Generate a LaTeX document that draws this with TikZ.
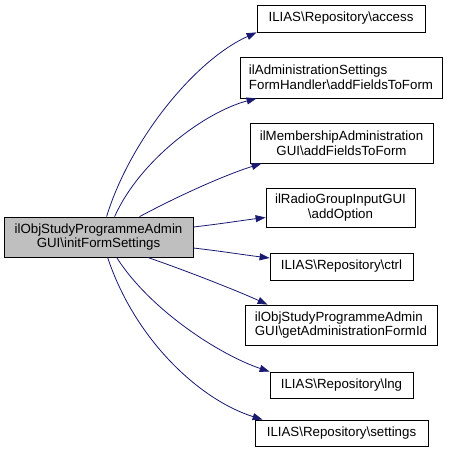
\documentclass[tikz,border=0pt]{standalone}
\usepackage{fontspec}
\setmainfont{Liberation Sans}
\usetikzlibrary{arrows.meta,calc}
\definecolor{edgeblue}{HTML}{191970}
\definecolor{mainfill}{HTML}{BFBFBF}
\begin{document}
\begin{tikzpicture}[x=1pt,y=-1pt,
  font=\fontsize{13.3}{14.7}\selectfont,
  box/.style={draw=black, line width=0.8pt, inner sep=0pt, fill=white},
  edge/.style={draw=edgeblue, line width=0.8pt, -{Triangle[length=10pt,width=7pt]}}]
\useasboundingbox (0,0) rectangle (448,453);
\node[box, fill=mainfill, minimum width=189pt, minimum height=40pt, align=center] (main) at (98.5,237) {ilObjStudyProgrammeAdmin\\GUI\textbackslash initFormSettings};
\node[box, minimum width=168pt, minimum height=27pt] (access) at (341,18.5) {ILIAS\textbackslash Repository\textbackslash access};
\node[box, minimum width=202pt, minimum height=41pt, align=left] (admin) at (341,77.5) {ilAdministrationSettings\\FormHandler\textbackslash addFieldsToForm};
\node[box, minimum width=183pt, minimum height=40pt, align=center] (mem) at (341.5,143) {ilMembershipAdministration\\GUI\textbackslash addFieldsToForm};
\node[box, minimum width=149pt, minimum height=39pt, align=center] (radio) at (340.5,207.5) {ilRadioGroupInputGUI\\\textbackslash addOption};
\node[box, minimum width=143pt, minimum height=27pt] (ctrl) at (341.5,266.5) {ILIAS\textbackslash Repository\textbackslash ctrl};
\node[box, minimum width=192pt, minimum height=40pt, align=left] (get) at (341,325) {ilObjStudyProgrammeAdmin\\GUI\textbackslash getAdministrationFormId};
\node[box, minimum width=143pt, minimum height=26pt] (lng) at (341.5,385) {ILIAS\textbackslash Repository\textbackslash lng};
\node[box, minimum width=173pt, minimum height=26pt] (settings) at (341.5,433) {ILIAS\textbackslash Repository\textbackslash settings};

\draw[edge] ($(main.north west)+(103,0)$) .. controls (130,140) and (195,60) .. (access.south west);
\draw[edge] ($(main.north west)+(111,0)$) .. controls (140,160) and (205,112) .. ($(admin.south west)+(17,0)$);
\draw[edge] ($(main.north west)+(136,0)$) .. controls (180,195) and (225,175) .. ($(mem.south west)+(12,0)$);
\draw[edge] ($(main.east)+(0,-10)$) .. controls (220,224) and (245,220) .. ($(radio.west)+(0,10)$);
\draw[edge] ($(main.east)+(0,11)$) .. controls (220,251) and (245,255) .. ($(ctrl.west)+(0,-8.5)$);
\draw[edge] ($(main.south west)+(144,0)$) .. controls (190,272) and (240,292) .. ($(get.north west)+(23,0)$);
\draw[edge] ($(main.south west)+(113,0)$) .. controls (150,310) and (220,355) .. (lng.north west);
\draw[edge] ($(main.south west)+(104,0)$) .. controls (135,340) and (200,400) .. ($(settings.north west)+(8,0)$);
\end{tikzpicture}
\end{document}
